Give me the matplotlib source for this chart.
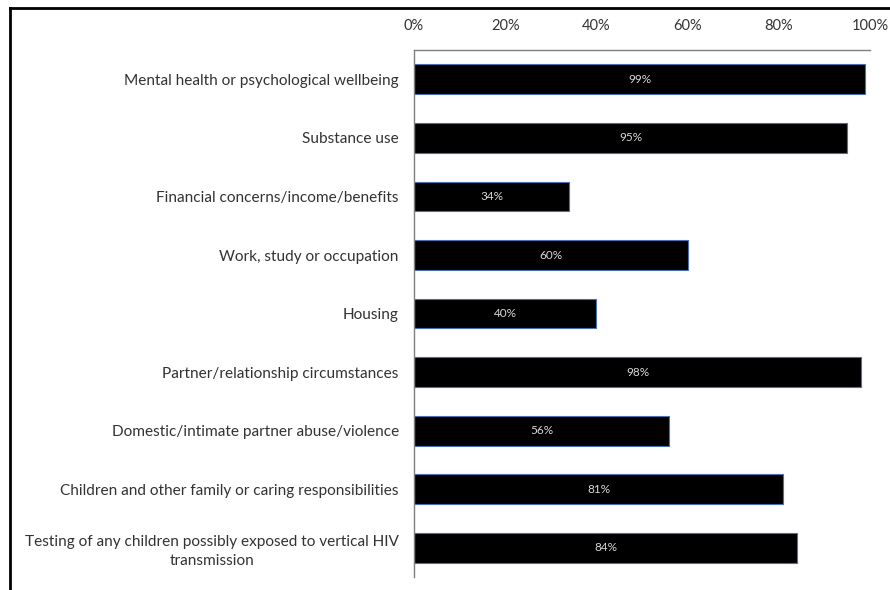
import matplotlib.pyplot as plt
from matplotlib.lines import Line2D
from matplotlib.ticker import PercentFormatter

# Datos
categorias = [
    'Mental health or psychological wellbeing',
    'Substance use',
    'Financial concerns/income/benefits',
    'Work, study or occupation',
    'Housing',
    'Partner/relationship circumstances',
    'Domestic/intimate partner abuse/violence',
    'Children and other family or caring responsibilities',
    'Testing of any children possibly exposed to vertical HIV\ntransmission',
]
valores = [99, 95, 34, 60, 40, 98, 56, 81, 84]
ticks_x = [0, 20, 40, 60, 80, 100]

plt.rcParams['font.family'] = ['Lato', 'DejaVu Sans']
texto = '#333333'

fig = plt.figure(figsize=(8.9, 5.9), dpi=100)
ax = fig.add_axes([0.4652, 0.022, 0.5123, 0.8931])

pos = list(range(len(categorias)))
bars = ax.barh(pos, valores, height=0.51, color='black',
               edgecolor='#4a6fb0', linewidth=0.8)

for b, v in zip(bars, valores):
    ax.text(v / 2, b.get_y() + b.get_height() / 2, f'{v}%',
            ha='center', va='center', color='#d9d9d9', fontsize=8.5)

ax.set_ylim(len(categorias) - 0.5, -0.5)
ax.set_xlim(0, 100)
ax.set_yticks(pos)
ax.set_yticklabels(categorias, fontsize=11.1, color=texto,
                   multialignment='center', linespacing=1.45)
ax.set_xticks(ticks_x)
ax.xaxis.set_major_formatter(PercentFormatter(decimals=0))
ax.xaxis.tick_top()
ax.tick_params(axis='x', length=0, pad=12, labelsize=10.5, labelcolor=texto)
ax.tick_params(axis='y', length=0, pad=11)

for lado in ['right', 'bottom']:
    ax.spines[lado].set_visible(False)
for lado in ['top', 'left']:
    ax.spines[lado].set_color('#7f7f7f')
    ax.spines[lado].set_linewidth(1.0)

# Marco exterior (recortado)
fig.add_artist(Line2D([0.0112, 1.0], [0.9864, 0.9864], color='black', lw=2))
fig.add_artist(Line2D([0.0112, 0.0112], [0.0, 0.9864], color='black', lw=2))

plt.savefig('out.png', dpi=100, facecolor='white')
